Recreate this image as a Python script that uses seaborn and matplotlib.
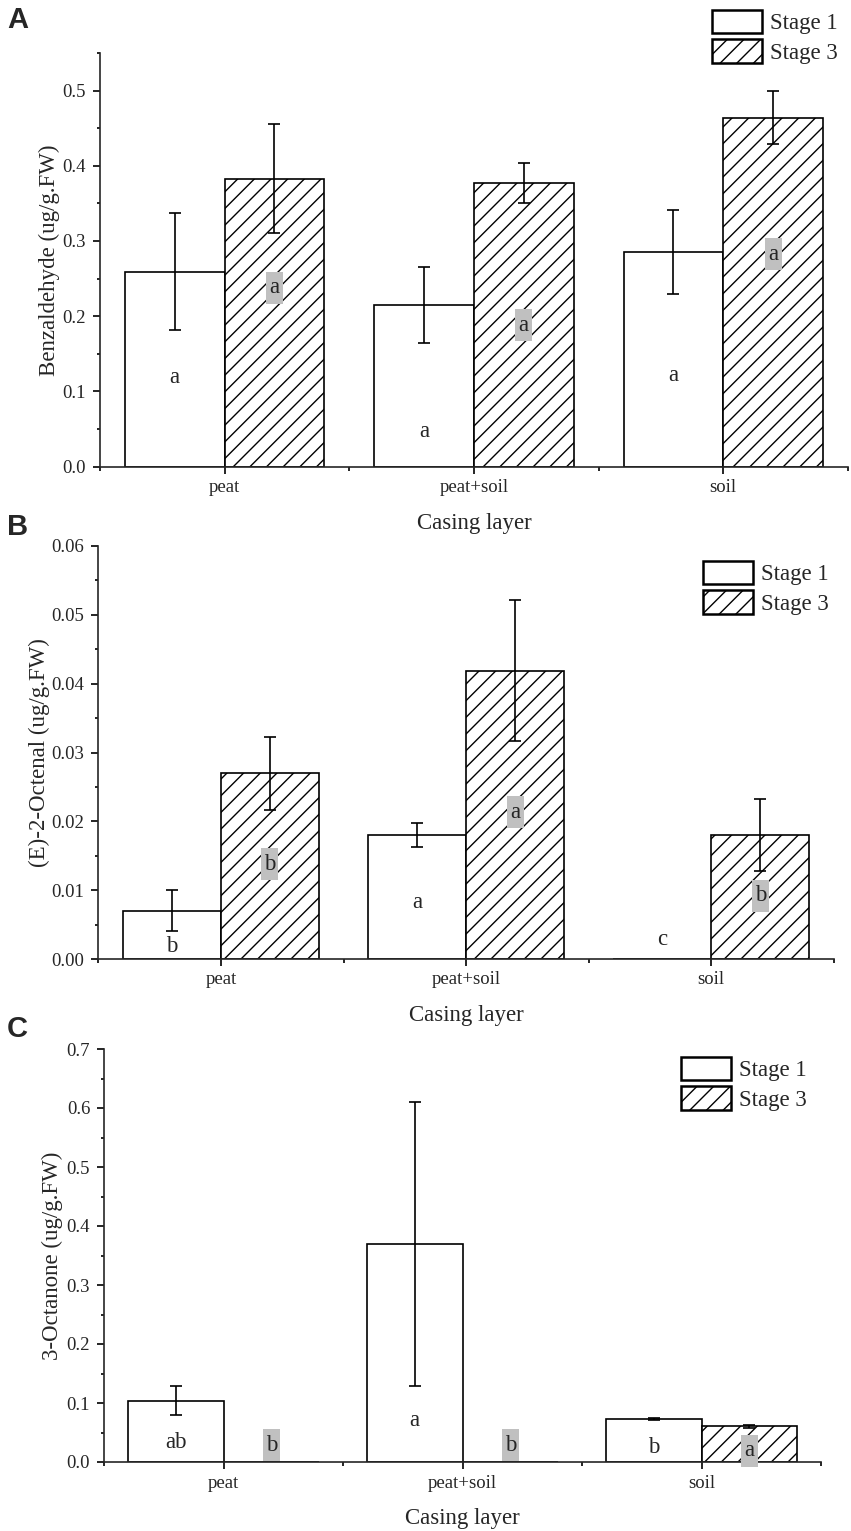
import warnings
warnings.filterwarnings("ignore")

import numpy as np
import pandas as pd
import matplotlib
matplotlib.use("Agg")
import matplotlib.pyplot as plt
import matplotlib.transforms as mtransforms
from matplotlib.patches import Patch, Rectangle
from matplotlib.ticker import MultipleLocator, FixedLocator
import seaborn as sns

# -------------------------------------------------
# Data
# -------------------------------------------------
layers = ["peat", "peat+soil", "soil"]
stages = ["Stage 1", "Stage 3"]

# A - Benzaldehyde
benz_s1 = [0.259, 0.215, 0.285]
benz_s1_err = [0.078, 0.051, 0.056]
benz_s3 = [0.383, 0.377, 0.464]
benz_s3_err = [0.072, 0.027, 0.035]
benz_s1_lab = ["a", "a", "a"]
benz_s1_lab_y = [0.118, 0.047, 0.121]
benz_s3_lab = ["a", "a", "a"]
benz_s3_lab_y = [0.238, 0.188, 0.282]

# B - (E)-2-Octenal
oct_s1 = [0.0070, 0.0180, 0.0]
oct_s1_err = [0.0030, 0.0018, np.nan]
oct_s3 = [0.0270, 0.0419, 0.0180]
oct_s3_err = [0.0053, 0.0103, 0.0052]
oct_s1_lab = ["b", "a", "c"]
oct_s1_lab_y = [0.0018, 0.0082, 0.0029]
oct_s3_lab = ["b", "a", "b"]
oct_s3_lab_y = [0.0138, 0.0213, 0.0092]

# C - 3-Octanone
one_s1 = [0.104, 0.370, 0.0734]
one_s1_err = [0.025, 0.241, 0.0015]
one_s3 = [0.0, 0.0, 0.0605]
one_s3_err = [np.nan, np.nan, 0.003]
one_s1_lab = ["ab", "a", "b"]
one_s1_lab_y = [0.033, 0.070, 0.025]
one_s3_lab = ["b", "b", "a"]
one_s3_lab_y = [0.028, 0.028, 0.019]

# -------------------------------------------------
# Plot Settings
# -------------------------------------------------
sns.set_theme(style="ticks")
plt.rcParams["font.family"] = ["Liberation Serif", "DejaVu Serif"]
plt.rcParams["hatch.linewidth"] = 1.0
plt.rcParams["hatch.color"] = "black"
plt.rcParams["axes.linewidth"] = 1.2

W, H = 851, 1531
fig = plt.figure(figsize=(W / 100, H / 100), dpi=100)


def fig_rect(left, right, top, bottom):
    return [left / W, 1 - bottom / H, (right - left) / W, (bottom - top) / H]


panels = [
    dict(rect=fig_rect(99.8, 848, 53, 466.5), s1=benz_s1, s1e=benz_s1_err,
         s3=benz_s3, s3e=benz_s3_err, l1=benz_s1_lab, l1y=benz_s1_lab_y,
         l3=benz_s3_lab, l3y=benz_s3_lab_y, ylim=0.55, major=0.1, minor=0.05,
         ylabel="Benzaldehyde (ug/g.FW)", tag="A", tag_y=20,
         leg=(712, 10), ylab_x=-0.053),
    dict(rect=fig_rect(98.3, 833.9, 546, 959), s1=oct_s1, s1e=oct_s1_err,
         s3=oct_s3, s3e=oct_s3_err, l1=oct_s1_lab, l1y=oct_s1_lab_y,
         l3=oct_s3_lab, l3y=oct_s3_lab_y, ylim=0.06, major=0.01, minor=0.005,
         ylabel="(E)-2-Octenal (ug/g.FW)", tag="B", tag_y=527,
         leg=(702.5, 561), ylab_x=-0.066),
    dict(rect=fig_rect(104.1, 821, 1049, 1462), s1=one_s1, s1e=one_s1_err,
         s3=one_s3, s3e=one_s3_err, l1=one_s1_lab, l1y=one_s1_lab_y,
         l3=one_s3_lab, l3y=one_s3_lab_y, ylim=0.7, major=0.1, minor=0.05,
         ylabel="3-Octanone (ug/g.FW)", tag="C", tag_y=1029,
         leg=(680.7, 1057), ylab_x=-0.057),
]

for p in panels:
    ax = fig.add_axes(p["rect"])

    df = pd.DataFrame({
        "layer": layers * 2,
        "stage": [stages[0]] * 3 + [stages[1]] * 3,
        "value": list(p["s1"]) + list(p["s3"]),
    })

    sns.barplot(data=df, x="layer", y="value", hue="stage", order=layers,
                hue_order=stages, errorbar=None, width=0.8, ax=ax,
                legend=False)

    for ci, cont in enumerate(ax.containers):
        for bar in cont:
            bar.set_facecolor("white")
            bar.set_edgecolor("black")
            bar.set_linewidth(1.2)
            if ci == 1:
                bar.set_hatch("//")

    xs = np.arange(len(layers))
    ax.errorbar(xs - 0.2, p["s1"], yerr=p["s1e"], fmt="none", ecolor="black",
                elinewidth=1.2, capsize=4, capthick=1.2, zorder=5)
    ax.errorbar(xs + 0.2, p["s3"], yerr=p["s3e"], fmt="none", ecolor="black",
                elinewidth=1.2, capsize=4, capthick=1.2, zorder=5)

    # significance letters (Stage 3 letters sit on a grey box)
    for i in range(len(layers)):
        ax.text(i - 0.2, p["l1y"][i], p["l1"][i], ha="center", va="center",
                fontsize=16.5, zorder=6)
        box_tr = fig.dpi_scale_trans + mtransforms.ScaledTranslation(
            i + 0.2, p["l3y"][i], ax.transData)
        ax.add_patch(Rectangle((-0.085, -0.16), 0.17, 0.32, transform=box_tr,
                               facecolor="#c0c0c0", edgecolor="none",
                               zorder=5.5, clip_on=False))
        ax.text(i + 0.2, p["l3y"][i], p["l3"][i], ha="center", va="center",
                fontsize=16.5, zorder=6)

    ax.set_xlim(-0.5, 2.5)
    ax.set_ylim(0, p["ylim"])
    ax.yaxis.set_major_locator(MultipleLocator(p["major"]))
    ax.yaxis.set_minor_locator(MultipleLocator(p["minor"]))
    ax.xaxis.set_minor_locator(FixedLocator([-0.5, 0.5, 1.5, 2.5]))
    sns.despine(ax=ax)

    ax.tick_params(axis="both", which="major", direction="out", length=5,
                   width=1.2, labelsize=13.5, color="black", pad=4)
    ax.tick_params(axis="y", which="minor", direction="out", length=2.5,
                   width=1.2, color="black")
    ax.tick_params(axis="x", which="minor", direction="out", length=3,
                   width=1.2, color="black")
    ax.tick_params(axis="y", which="major", pad=5)

    ax.set_xlabel("Casing layer", fontsize=16.5)
    ax.xaxis.set_label_coords(0.5, -0.112)
    ax.set_ylabel(p["ylabel"], fontsize=16.5)
    ax.yaxis.set_label_coords(p["ylab_x"], 0.5)

    handles = [
        Patch(facecolor="white", edgecolor="black", linewidth=1.8,
              label=stages[0]),
        Patch(facecolor="white", edgecolor="black", linewidth=1.8,
              hatch="//", label=stages[1]),
    ]
    lx, ly = p["leg"]
    ax.legend(handles=handles, loc="upper left",
              bbox_to_anchor=(lx / W, 1 - ly / H),
              bbox_transform=fig.transFigure, frameon=False, fontsize=16.5,
              handlelength=2.2, handleheight=1.2, handletextpad=0.35,
              labelspacing=0.2, borderpad=0, borderaxespad=0)

    fig.text(7 / W, 1 - p["tag_y"] / H, p["tag"], ha="left", va="center",
             fontsize=21, fontweight="bold",
             family=["Liberation Sans", "DejaVu Sans"])

fig.savefig("out.png", dpi=100)
